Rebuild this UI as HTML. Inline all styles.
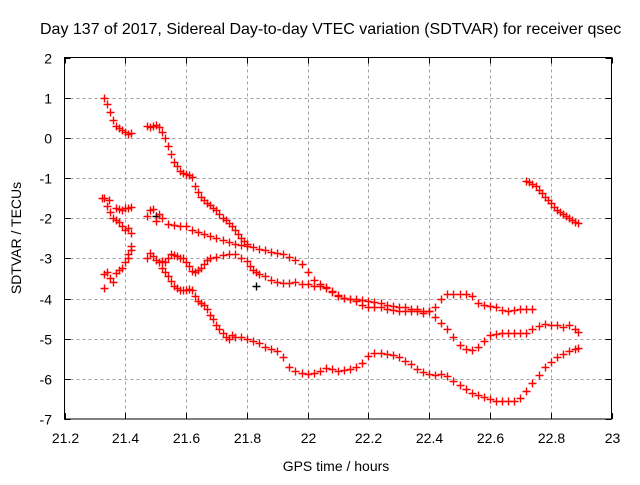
<!DOCTYPE html>
<html><head><meta charset="utf-8"><style>
body{margin:0;background:#fff;}
svg text{font-family:"Liberation Sans",sans-serif;font-size:14px;fill:#000;}
</style></head><body>
<svg id="chart" width="640" height="480" xmlns="http://www.w3.org/2000/svg">
<rect width="640" height="480" fill="#fff"/>
<g id="grid"></g>
<g id="marks"></g>
<rect x="64.5" y="57.5" width="547" height="361.5" fill="none" stroke="#000" stroke-width="1"/>
<g id="ticks"></g>
<text x="40" y="34" style="font-size:16px">Day 137 of 2017, Sidereal Day-to-day VTEC variation (SDTVAR) for receiver qsec</text>
<text x="336" y="471" text-anchor="middle">GPS time / hours</text>
<text transform="translate(21,238) rotate(-90)" text-anchor="middle">SDTVAR / TECUs</text>
</svg>
<script>
const xTicks=[21.2,21.4,21.6,21.8,22,22.2,22.4,22.6,22.8,23];
const xTickLabels=["21.2","21.4","21.6","21.8","22","22.2","22.4","22.6","22.8","23"];
const yTicks=[2,1,0,-1,-2,-3,-4,-5,-6,-7];
const yTickLabels=["2","1","0","-1","-2","-3","-4","-5","-6","-7"];

const s1x=[21.33,21.34,21.35,21.36,21.37,21.38,21.39,21.40,21.41,21.42];
const s1y=[1.0,0.85,0.65,0.45,0.3,0.25,0.2,0.15,0.1,0.12];
const s2x=[21.47,21.48,21.49,21.50,21.51,21.52,21.53,21.54,21.55,21.56,21.57,21.58,21.59,21.60,21.61,21.62,21.63,21.64,21.65,21.66,21.67,21.68,21.69,21.70,21.71,21.72,21.73,21.74,21.75,21.76,21.77,21.78,21.79,21.80];
const s2y=[0.3,0.28,0.3,0.32,0.28,0.15,0.0,-0.2,-0.4,-0.6,-0.7,-0.82,-0.88,-0.9,-0.92,-0.97,-1.2,-1.35,-1.48,-1.55,-1.62,-1.68,-1.75,-1.8,-1.9,-2.0,-2.05,-2.12,-2.2,-2.3,-2.4,-2.5,-2.58,-2.65];
const s3x=[21.47,21.48,21.49,21.50,21.51,21.52,21.54,21.56,21.58,21.60,21.62,21.64,21.66,21.68,21.70,21.72,21.74,21.76,21.78,21.80,21.82,21.84,21.86,21.88,21.90,21.92,21.94,21.96,21.98,22.00,22.02,22.04,22.06,22.08,22.10,22.12,22.14,22.16,22.18,22.20,22.22,22.24,22.26,22.28,22.30,22.32,22.34,22.36,22.38,22.40,22.42,22.44,22.46,22.48,22.50,22.52,22.54,22.56,22.58,22.60,22.62,22.64,22.66,22.68,22.70,22.72,22.74,22.76,22.78,22.80,22.82,22.84,22.86,22.88,22.89];
const s3y=[-1.95,-1.8,-1.78,-2.07,-1.9,-2.0,-2.15,-2.18,-2.2,-2.2,-2.3,-2.35,-2.4,-2.45,-2.5,-2.55,-2.6,-2.65,-2.68,-2.7,-2.72,-2.76,-2.8,-2.83,-2.86,-2.9,-2.96,-3.05,-3.13,-3.35,-3.55,-3.64,-3.72,-3.81,-3.92,-3.98,-4.0,-4.02,-4.04,-4.05,-4.08,-4.1,-4.15,-4.18,-4.2,-4.22,-4.25,-4.27,-4.3,-4.32,-4.45,-4.6,-4.75,-4.95,-5.15,-5.25,-5.28,-5.2,-5.05,-4.92,-4.88,-4.87,-4.87,-4.86,-4.86,-4.85,-4.75,-4.68,-4.64,-4.65,-4.66,-4.7,-4.65,-4.75,-4.83];
const s4x=[21.47,21.48,21.49,21.50,21.51,21.52,21.53,21.54,21.55,21.56,21.57,21.58,21.59,21.60,21.61,21.62,21.63,21.64,21.65,21.66,21.67,21.68,21.70,21.72,21.74,21.76,21.78,21.80,21.81,21.82,21.83,21.84,21.86,21.88,21.90,21.92,21.94,21.96,21.98,22.00,22.02,22.04,22.06,22.08,22.10,22.12,22.14,22.16,22.18,22.20,22.22,22.24,22.26,22.28,22.30,22.32,22.34,22.36,22.38,22.40,22.42,22.44,22.46,22.48,22.50,22.52,22.54,22.56,22.58,22.60,22.62,22.64,22.66,22.68,22.70,22.72,22.74];
const s4y=[-3.0,-2.87,-2.95,-3.05,-3.1,-3.06,-3.1,-3.0,-2.9,-2.92,-2.95,-3.0,-3.0,-3.1,-3.2,-3.31,-3.33,-3.3,-3.25,-3.15,-3.05,-3.0,-2.97,-2.92,-2.9,-2.9,-2.98,-3.06,-3.2,-3.28,-3.35,-3.4,-3.45,-3.55,-3.6,-3.62,-3.62,-3.6,-3.65,-3.65,-3.7,-3.68,-3.75,-3.85,-3.95,-3.98,-4.0,-4.05,-4.15,-4.2,-4.2,-4.22,-4.25,-4.28,-4.3,-4.3,-4.3,-4.32,-4.35,-4.3,-4.2,-4.0,-3.9,-3.88,-3.88,-3.9,-3.95,-4.1,-4.15,-4.18,-4.22,-4.28,-4.3,-4.28,-4.27,-4.27,-4.25];
const s5x=[21.33,21.33,21.34,21.35,21.36,21.37,21.38,21.39,21.40,21.41,21.41,21.42,21.42];
const s5y=[-3.38,-3.75,-3.35,-3.5,-3.6,-3.37,-3.3,-3.25,-3.1,-2.9,-3.0,-2.7,-2.8];
const s6x=[21.325,21.33,21.34,21.35,21.36,21.37,21.38,21.39,21.40,21.41,21.42];
const s6y=[-1.49,-1.5,-1.7,-1.85,-2.0,-2.05,-2.1,-2.2,-2.3,-2.24,-2.36];
const s7x=[21.345,21.37,21.38,21.39,21.40,21.41,21.42];
const s7y=[-1.55,-1.75,-1.77,-1.8,-1.75,-1.74,-1.72];
const s8x=[21.52,21.53,21.54,21.55,21.56,21.57,21.58,21.59,21.60,21.61,21.62,21.63,21.64,21.65,21.66,21.67,21.68,21.69,21.70,21.71,21.72,21.73,21.74,21.75,21.76,21.78,21.80,21.82,21.84,21.86,21.88,21.90,21.92,21.94,21.96,21.98,22.00,22.02,22.04,22.06,22.08,22.10,22.12,22.14,22.16,22.18,22.20,22.22,22.24,22.26,22.28,22.30,22.32,22.34,22.36,22.38,22.40,22.42,22.44,22.46,22.48,22.50,22.52,22.54,22.56,22.58,22.60,22.62,22.64,22.66,22.68,22.70,22.72,22.74,22.76,22.78,22.80,22.82,22.84,22.86,22.88,22.89];
const s8y=[-3.24,-3.35,-3.45,-3.56,-3.7,-3.75,-3.8,-3.8,-3.78,-3.77,-3.8,-3.93,-4.05,-4.1,-4.15,-4.25,-4.4,-4.5,-4.65,-4.75,-4.85,-4.95,-5.0,-4.9,-4.95,-4.95,-5.0,-5.05,-5.1,-5.2,-5.25,-5.3,-5.45,-5.7,-5.8,-5.85,-5.88,-5.85,-5.8,-5.73,-5.75,-5.8,-5.78,-5.75,-5.7,-5.6,-5.42,-5.35,-5.35,-5.38,-5.4,-5.45,-5.55,-5.62,-5.75,-5.82,-5.88,-5.9,-5.87,-5.92,-6.05,-6.15,-6.25,-6.35,-6.4,-6.45,-6.5,-6.55,-6.55,-6.56,-6.55,-6.48,-6.3,-6.1,-5.9,-5.7,-5.58,-5.45,-5.38,-5.3,-5.26,-5.22];
const s9x=[22.72,22.73,22.74,22.75,22.76,22.77,22.78,22.79,22.80,22.81,22.82,22.83,22.84,22.85,22.86,22.87,22.88,22.89];
const s9y=[-1.08,-1.1,-1.15,-1.2,-1.3,-1.38,-1.48,-1.55,-1.62,-1.72,-1.8,-1.85,-1.9,-1.95,-2.0,-2.05,-2.1,-2.12];
const blackX=[21.83,21.50];
const blackY=[-3.68,-1.95];

const X0=64.5,X1=611.5,Y0=419,Y1=57.5;
function sx(v){return X0+(v-21.2)/(23-21.2)*(X1-X0);}
function sy(v){return Y0-(v-(-7))/(2-(-7))*(Y0-Y1);}
const NS="http://www.w3.org/2000/svg";
function mk(tag,attrs,parent){const e=document.createElementNS(NS,tag);for(const k in attrs)e.setAttribute(k,attrs[k]);parent.appendChild(e);return e;}
const grid=document.getElementById('grid'),ticks=document.getElementById('ticks'),marks=document.getElementById('marks');
xTicks.forEach((t,i)=>{
  const x=Math.round(sx(t))+0.5;
  if(i>0&&i<xTicks.length-1){
    const g=mk('line',{x1:x,x2:x,y1:Y1,y2:Y0,stroke:'#a0a0a0','stroke-dasharray':'3,3'},grid);
    
    
  }
  const t1=mk('line',{x1:x,x2:x,y1:Y0,y2:Y0-6,stroke:'#000'},ticks);
  
  
  const t2=mk('line',{x1:x,x2:x,y1:Y1,y2:Y1+6,stroke:'#000'},ticks);
  
  
  const l=mk('text',{x:x,y:443,'text-anchor':'middle'},ticks);
  l.textContent=xTickLabels[i];
  
  
});
yTicks.forEach((t,i)=>{
  const y=Math.round(sy(t))+0.5;
  if(i>0&&i<yTicks.length-1){
    const g=mk('line',{x1:X0,x2:X1,y1:y,y2:y,stroke:'#a0a0a0','stroke-dasharray':'3,3'},grid);
    
    
  }
  const t1=mk('line',{x1:X0,x2:X0+6,y1:y,y2:y,stroke:'#000'},ticks);
  
  
  const t2=mk('line',{x1:X1,x2:X1-6,y1:y,y2:y,stroke:'#000'},ticks);
  
  
  const l=mk('text',{x:52,y:y+5,'text-anchor':'end'},ticks);
  l.textContent=yTickLabels[i];
  
  
});
function plus(x,y,color,name){
  const cx=Math.round(sx(x))+0.5,cy=Math.round(sy(y))+0.5;
  const p=mk('path',{d:`M${cx-4},${cy}H${cx+4}M${cx},${cy-4}V${cy+4}`,stroke:color,'stroke-width':1.4,fill:'none'},marks);
  
  
}
blackX.forEach((v,i)=>plus(v,blackY[i],'#000','point-black'));
[[s1x,s1y],[s2x,s2y],[s3x,s3y],[s4x,s4y],[s5x,s5y],[s6x,s6y],[s7x,s7y],[s8x,s8y],[s9x,s9y]].forEach((s,k)=>{
  s[0].forEach((v,i)=>plus(v,s[1][i],'#ff0000','point-series-'+(k+1)));
});
</script>
</body></html>
